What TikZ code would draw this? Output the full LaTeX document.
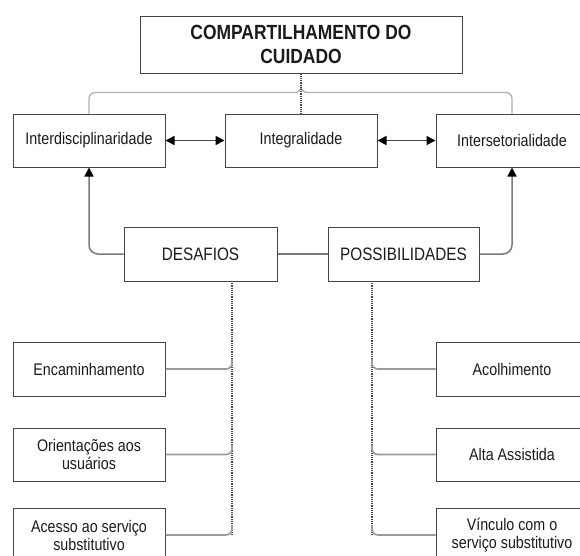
\documentclass[tikz,border=0pt]{standalone}
\usepackage{fontspec}
\setmainfont{Liberation Sans}[FakeStretch=0.85]
\usetikzlibrary{arrows.meta,calc}
\definecolor{boxc}{HTML}{444444}
\definecolor{txtc}{HTML}{1A1A1A}
\definecolor{linec}{HTML}{7A7A7A}
\definecolor{lightc}{HTML}{B0B0B0}
\definecolor{branchc}{HTML}{9A9A9A}
\tikzset{
  box/.style={draw=boxc, line width=1pt, minimum width=152pt, minimum height=54pt, inner sep=0pt, align=center, text=txtc, font=\fontsize{16.8}{18}\selectfont},
  headbox/.style={box, font=\fontsize{18}{20}\selectfont},
  titlebox/.style={box, minimum width=322pt, minimum height=57pt, font=\bfseries\fontsize{20.5}{24}\selectfont},
  dbl/.style={draw=boxc, line width=1.6pt, {Triangle[length=9pt,width=9pt,color=black]}-{Triangle[length=9pt,width=9pt,color=black]}},
  uparrow/.style={draw=linec, line width=1.5pt, rounded corners=9pt, -{Triangle[length=9pt,width=9pt,color=black]}},
  plainline/.style={draw=linec, line width=1.5pt},
  spine/.style={draw=boxc, line width=1.2pt, densely dotted},
  branch/.style={draw=branchc, line width=1.6pt, rounded corners=6pt},
  bracket/.style={draw=lightc, line width=1.3pt, rounded corners=6pt},
}
\begin{document}
\begin{tikzpicture}[x=1pt,y=-1pt]
\useasboundingbox (0,0) rectangle (580,555);
\clip (0,0) rectangle (580,555);
% nodes
\node[titlebox] (title) at (301,44.5) {COMPARTILHAMENTO DO\\CUIDADO};
\node[box, minimum height=53pt] (inter) at (89,140.5) {Interdisciplinaridade};
\node[box, minimum height=53pt] (integ) at (301,140.5) {Integralidade};
\node[box, minimum height=53pt] (inset) at (512,140.5) {Intersetorialidade};
\node[headbox, minimum width=153pt] (desaf) at (200.5,254) {DESAFIOS};
\node[headbox, minimum width=151pt] (possi) at (403.5,254) {POSSIBILIDADES};
\node[box] (enc) at (89,369) {Encaminhamento};
\node[box, minimum height=53pt] (ori) at (89,454.5) {Orientações aos\\usuários};
\node[box] (ace) at (89,535) {Acesso ao serviço\\substitutivo};
\node[box] (aco) at (512,369) {Acolhimento};
\node[box, minimum height=53pt] (alta) at (512,454.5) {Alta Assistida};
\node[box] (vin) at (512,535) {Vínculo com o\\serviço substitutivo};
% coordinates
\coordinate (ds) at (232,281);
\coordinate (ps) at (372,281);
\coordinate (mid) at (301,92.5);
% top bracket
\draw[bracket] (inter.north) -- (inter.north |- mid) -- ($(mid)+(-0.1,0)$) -- ($(mid)+(0,-6)$);
\draw[bracket] (inset.north) -- (inset.north |- mid) -- ($(mid)+(0.1,0)$) -- ($(mid)+(0,-6)$);
\draw[spine] (title.south) -- (integ.north);
% arrows in row
\draw[dbl] (inter.east) -- (integ.west);
\draw[dbl] (integ.east) -- (inset.west);
% head connectors
\draw[plainline] (desaf.east) -- (possi.west);
\draw[uparrow] (desaf.west) -| (inter.south);
\draw[uparrow] (possi.east) -| (inset.south);
% spines
\draw[spine] (ds) -- (ds |- ace.east);
\draw[spine] (ps) -- (ps |- vin.east);
% branches
\foreach \b in {enc,ori,ace}{
  \draw[branch] ($(ds |- \b.east)+(0,-10)$) -- (ds |- \b.east) -- (\b.east);
}
\foreach \b in {aco,alta,vin}{
  \draw[branch] ($(ps |- \b.west)+(0,-10)$) -- (ps |- \b.west) -- (\b.west);
}
\end{tikzpicture}
\end{document}
